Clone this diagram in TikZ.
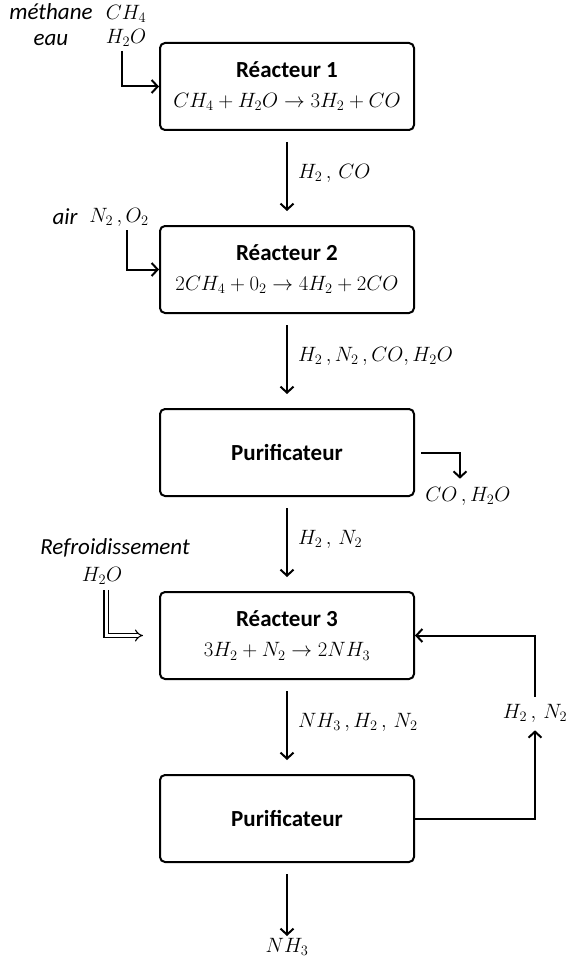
\documentclass[tikz,border=0pt]{standalone}
\usepackage{fontspec}
\setmainfont{Carlito}
\usetikzlibrary{arrows.meta, positioning}
\newcommand{\boxtitle}[1]{{\fontsize{23}{30}\selectfont\bfseries #1}}

\begin{document}
\begin{tikzpicture}[
    x=1pt, y=1pt,
    node distance=94pt,
    box/.style={rectangle, draw, line width=2pt, rounded corners=5pt, minimum width=254pt, minimum height=87pt, align=center, font=\fontsize{20}{30}\selectfont},
    arrow/.style={-{Straight Barb[length=6pt, width=13pt]}, line width=2pt},
    flow/.style={arrow, shorten <=11pt, shorten >=14pt},
    coolarrow/.style={-{Implies}, double, double distance=3pt, line width=1.1pt},
    chem/.style={font=\fontsize{20}{24}\selectfont, inner sep=0pt, align=center},
    note/.style={font=\fontsize{23}{26}\selectfont\itshape, inner sep=0pt, align=center}
]
\useasboundingbox (0,0) rectangle (572,-960);

% Nodes
\node[box] (r1) at (287,-86.5) {\boxtitle{Réacteur 1}\\$CH_4+H_2O\rightarrow 3H_2+CO$};
\node[box, below=of r1] (r2) {\boxtitle{Réacteur 2}\\$2CH_4+0_2\rightarrow 4H_2+2CO$};
\node[box, below=of r2] (pur1) {\boxtitle{Purificateur}};
\node[box, below=of pur1] (r3) {\boxtitle{Réacteur 3}\\$3H_2+N_2\rightarrow 2NH_3$};
\node[box, below=of r3] (pur2) {\boxtitle{Purificateur}};
\node[chem, below=75pt of pur2] (nh3) {$NH_3$};

% Inputs and outputs
\node[note] (meth) at (51,-25) {méthane\\eau};
\node[chem] (feed1) at (126,-26) {$CH_4$\\$H_2O$};
\node[note] (air) at (65,-217) {air};
\node[chem] (feed2) at (119,-217) {$N_2\,,O_2$};
\node[chem] (out1) at (468,-496) {$CO\,,H_2O$};
\node[note] (refr) at (115,-548) {Refroidissement};
\node[chem] (cool) at (102,-576) {$H_2O$};
\node[chem] (rec) at (535,-713) {$H_2\,,\,N_2$};

% Arrows
\draw[flow] (r1) -- node[chem, right=10pt, yshift=5pt] {$H_2\,,\,CO$} (r2);
\draw[flow] (r2) -- node[chem, right=10pt, yshift=5pt] {$H_2\,,N_2\,,CO,H_2O$} (pur1);
\draw[flow] (pur1) -- node[chem, right=10pt, yshift=5pt] {$H_2\,,\,N_2$} (r3);
\draw[flow] (r3) -- node[chem, right=10pt, yshift=5pt] {$NH_3\,,H_2\,,\,N_2$} (pur2);
\draw[arrow, shorten <=11pt, shorten >=2pt] (pur2) -- (nh3);

\draw[arrow, shorten <=4pt] ([xshift=-4pt]feed1.south) |- (r1.west);
\draw[arrow, shorten <=4pt] ([xshift=8pt]feed2.south) |- (r2.west);
\draw[arrow, shorten <=6pt, shorten >=8pt] (pur1.east) -| ([xshift=-8pt]out1.north);
\draw[coolarrow, shorten <=5pt, shorten >=16pt] ([xshift=4pt]cool.south) |- (r3.west);
\draw[arrow, shorten >=8pt] (pur2.east) -| (rec.south);
\draw[arrow, shorten <=7pt] (rec.north) |- (r3.east);

\end{tikzpicture}
\end{document}
